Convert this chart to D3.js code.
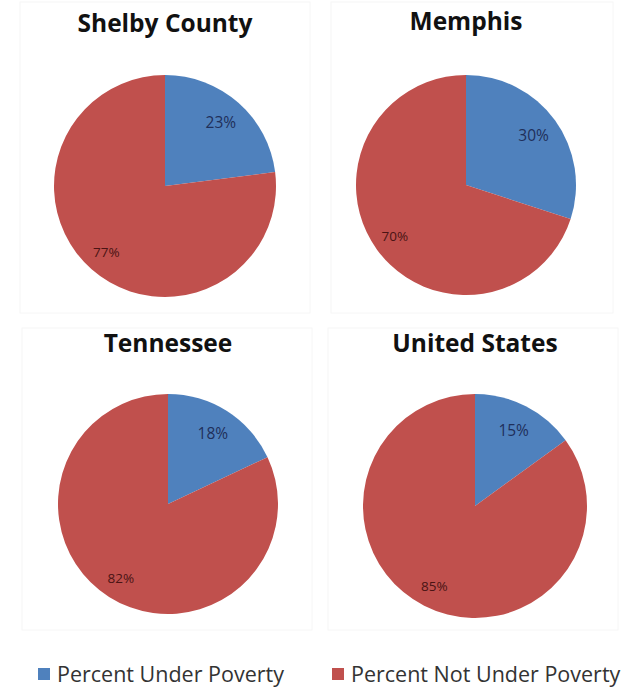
<!DOCTYPE html>
<html>
<head>
<meta charset="utf-8">
<script src="https://cdn.jsdelivr.net/npm/d3@7/dist/d3.min.js"></script>
<style>
  html, body { margin: 0; padding: 0; background: #fff; }
  svg { display: block; }
</style>
</head>
<body>
<svg id="chart" width="637" height="689"></svg>
<script>
// ---- data ----
const regions = ["Shelby County", "Memphis", "Tennessee", "United States"];
const underPoverty = [23, 30, 18, 15];
const notUnderPoverty = [77, 70, 82, 85];
const seriesNames = ["Percent Under Poverty", "Percent Not Under Poverty"];
const seriesColors = ["#4f81bd", "#c0504d"];
const labelColors = ["#1f2f5a", "#4a1414"];

// ---- layout ----
const panels = [
  { cx: 165, cy: 186, r: 111, ty: 32 },
  { cx: 466, cy: 185, r: 110, ty: 30 },
  { cx: 168, cy: 504, r: 110, ty: 352 },
  { cx: 475, cy: 506, r: 112, ty: 352 }
];
const panelBoxes = [
  { x: 20, y: 2, w: 290, h: 311 },
  { x: 331, y: 2, w: 282, h: 311 },
  { x: 22, y: 328, w: 290, h: 302 },
  { x: 328, y: 328, w: 290, h: 302 }
];

const svg = d3.select("#chart");

// faint panel frames
svg.selectAll("rect.frame").data(panelBoxes).join("rect")
  .attr("class", "frame")
  .attr("x", d => d.x).attr("y", d => d.y)
  .attr("width", d => d.w).attr("height", d => d.h)
  .attr("fill", "none").attr("stroke", "#f6f6f6").attr("stroke-width", 1);

const pie = d3.pie().sort(null).value(d => d.value);

regions.forEach((name, i) => {
  const p = panels[i];
  const values = [
    { key: seriesNames[0], value: underPoverty[i], idx: 0 },
    { key: seriesNames[1], value: notUnderPoverty[i], idx: 1 }
  ];
  const arcs = pie(values);
  const arc = d3.arc().innerRadius(0).outerRadius(p.r);
  const labelR = d => p.r * (d.data.idx === 0 ? 0.76 : 0.8);

  const g = svg.append("g").attr("transform", `translate(${p.cx},${p.cy})`);
  g.selectAll("path").data(arcs).join("path")
    .attr("d", arc)
    .attr("fill", d => seriesColors[d.data.idx]);

  g.selectAll("text").data(arcs).join("text")
    .attr("transform", d => {
      const lr = labelR(d);
      return `translate(${d3.arc().innerRadius(lr).outerRadius(lr).centroid(d)})`;
    })
    .attr("text-anchor", "middle")
    .attr("dy", "0.35em")
    .attr("font-family", "'Open Sans', 'Liberation Sans', sans-serif")
    .attr("font-size", d => d.data.idx === 0 ? 15.5 : 13.5)
    .attr("fill", d => labelColors[d.data.idx])
    .text(d => d.data.value + "%");

  svg.append("text")
    .attr("x", p.cx).attr("y", p.ty)
    .attr("text-anchor", "middle")
    .attr("font-family", "'Open Sans', 'Liberation Sans', sans-serif")
    .attr("font-weight", "bold")
    .attr("font-size", 24.5)
    .attr("fill", "#111")
    .text(name);
});

// legend
const legendItems = [
  { name: seriesNames[0], color: seriesColors[0], x: 38 },
  { name: seriesNames[1], color: seriesColors[1], x: 332 }
];
const lg = svg.append("g");
lg.selectAll("rect").data(legendItems).join("rect")
  .attr("x", d => d.x).attr("y", 668)
  .attr("width", 12).attr("height", 12)
  .attr("fill", d => d.color);
lg.selectAll("text").data(legendItems).join("text")
  .attr("x", d => d.x + 19).attr("y", 682)
  .attr("font-family", "'Open Sans', 'Liberation Sans', sans-serif")
  .attr("font-size", 21.5)
  .attr("fill", "#333")
  .text(d => d.name);
</script>
</body>
</html>
